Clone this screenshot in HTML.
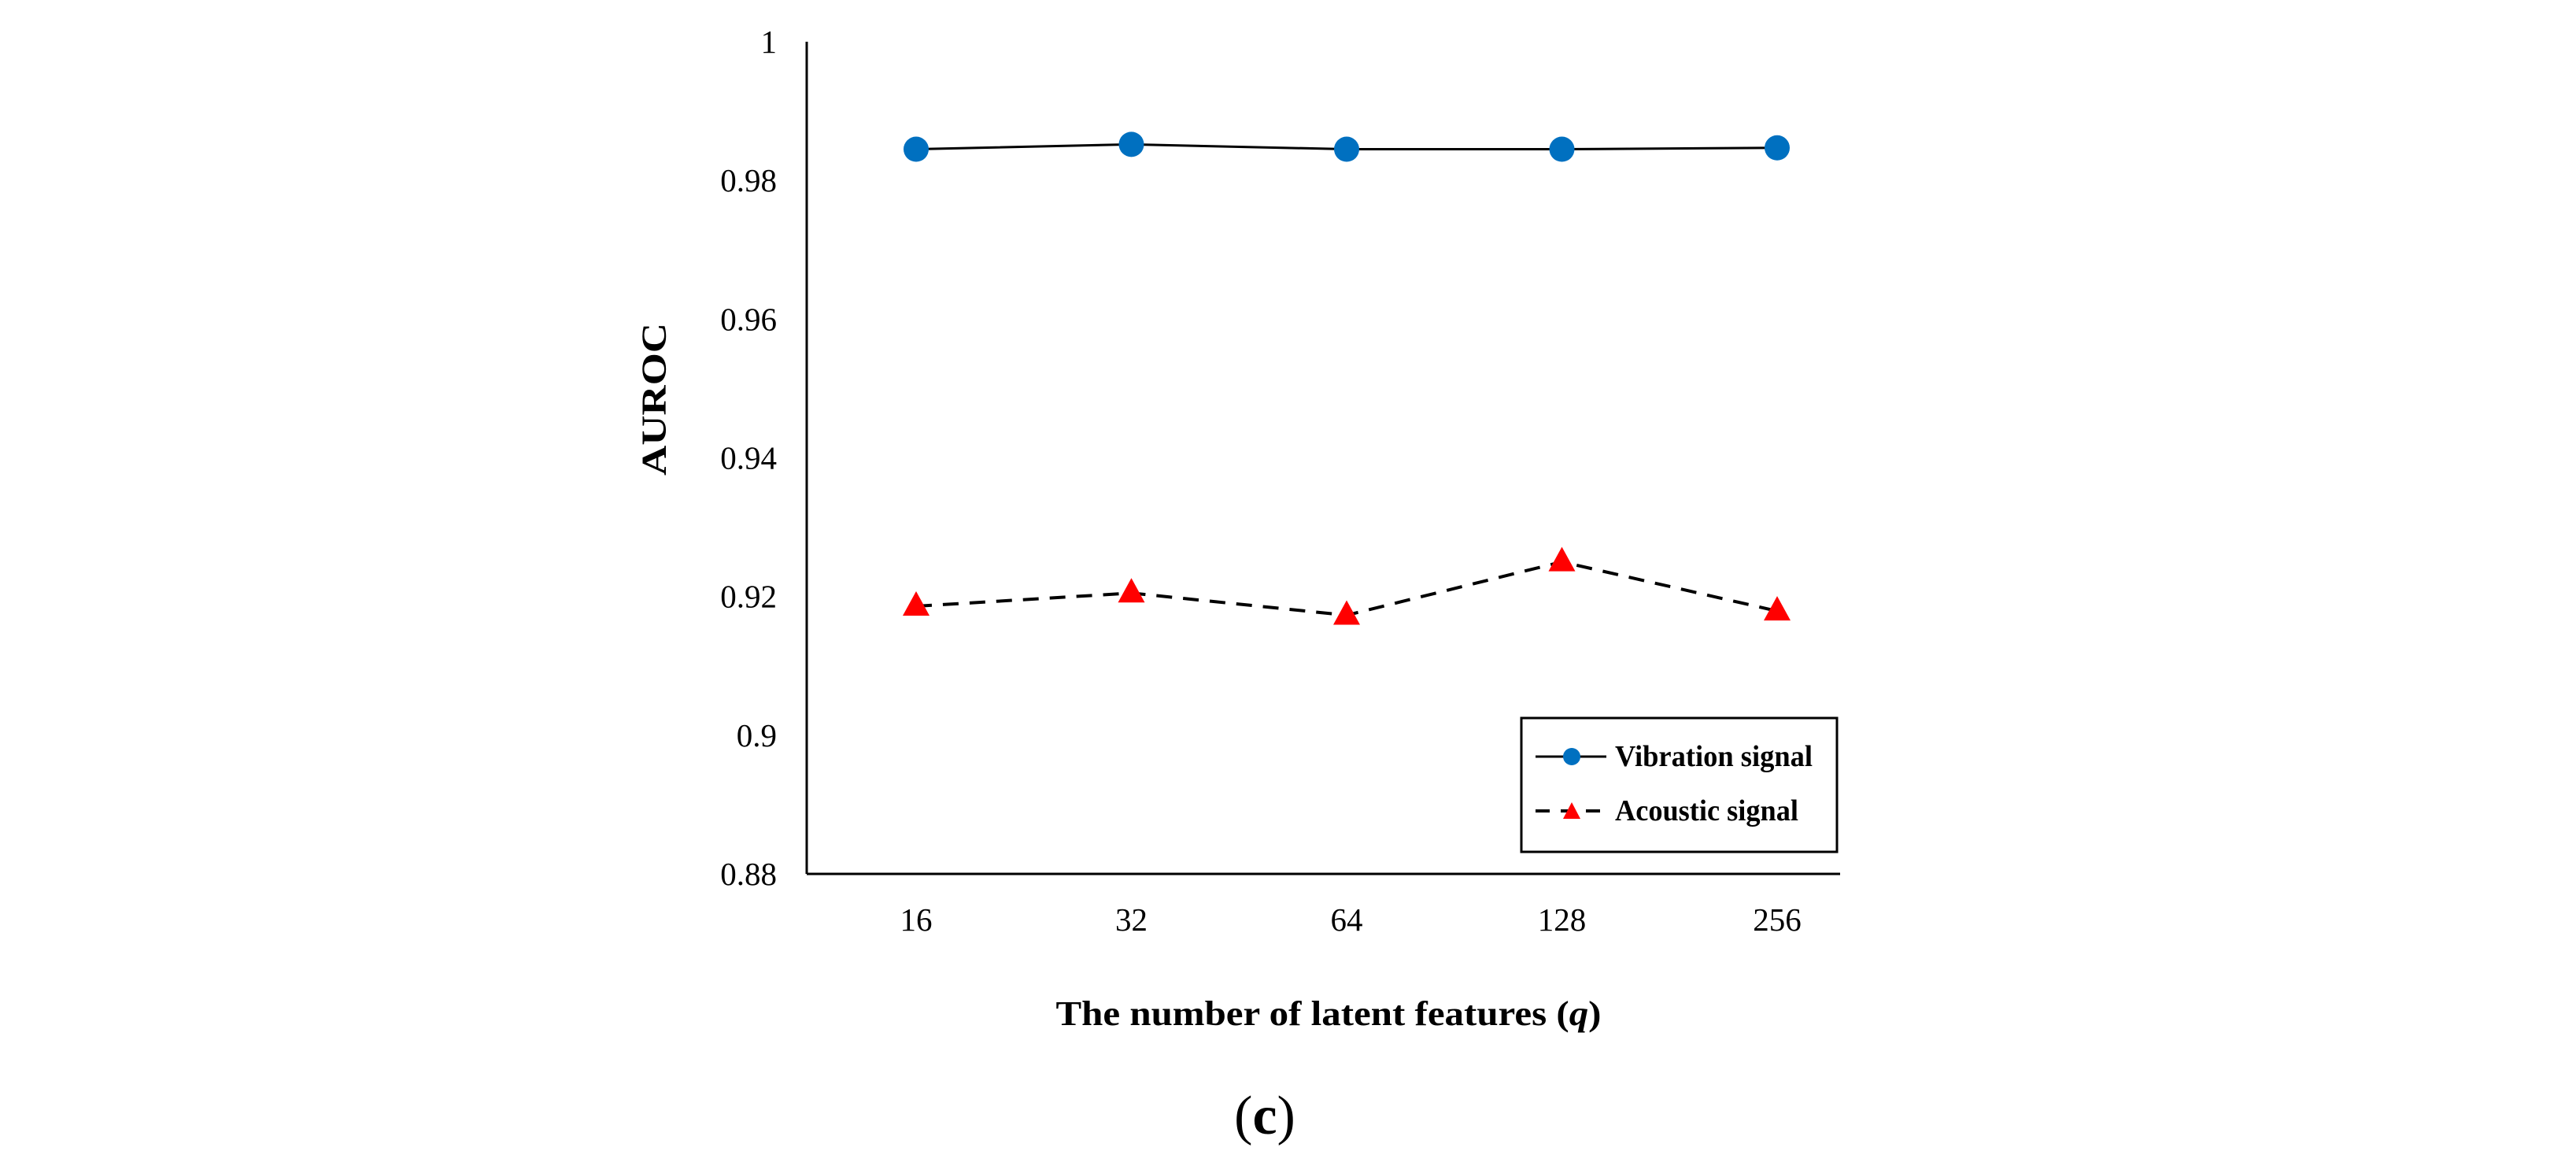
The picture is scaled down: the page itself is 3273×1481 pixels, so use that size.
<!DOCTYPE html>
<html><head><meta charset="utf-8"><style>
html,body{margin:0;padding:0;background:#fff;}
svg{display:block;font-family:"Liberation Serif",serif;}
</style></head><body>
<svg id="chart" width="3273" height="1481" viewBox="0 0 3273 1481" xmlns="http://www.w3.org/2000/svg">
<rect width="3273" height="1481" fill="#fff"/>
<g id="yticks"></g>
<g id="xticks"></g>
<line x1="1025" y1="53" x2="1025" y2="1110" stroke="#000" stroke-width="3"/>
<line x1="1025" y1="1110" x2="2338" y2="1110" stroke="#000" stroke-width="3"/>
<g id="series"></g>
<text x="831" y="507" font-size="44" font-weight="bold" text-anchor="middle" dominant-baseline="central" transform="rotate(-90 831 507)" textLength="194" lengthAdjust="spacingAndGlyphs">AUROC</text>
<text x="1688" y="1302" font-size="44" font-weight="bold" text-anchor="middle" textLength="693" lengthAdjust="spacingAndGlyphs">The number of latent features (<tspan font-style="italic">q</tspan>)</text>
<text x="1607" y="1440" font-size="70" text-anchor="middle">(<tspan font-weight="bold">c</tspan>)</text>
<g>
<rect x="1933" y="912" width="401" height="170" fill="#fff" stroke="#000" stroke-width="3"/>
<line x1="1951" y1="961" x2="2041" y2="961" stroke="#000" stroke-width="3"/>
<circle cx="1997" cy="961" r="11" fill="#0070C0"/>
<text x="2052" y="973" font-size="38" font-weight="bold" textLength="251" lengthAdjust="spacingAndGlyphs">Vibration signal</text>
<line x1="1951" y1="1030" x2="2041" y2="1030" stroke="#000" stroke-width="4" stroke-dasharray="18,14"/>
<polygon points="1997,1019 2008,1040 1986,1040" fill="#f00"/>
<text x="2052" y="1042" font-size="38" font-weight="bold" textLength="233" lengthAdjust="spacingAndGlyphs">Acoustic signal</text>
</g>
</svg>
<script>
const categories = ["16","32","64","128","256"];
const vibration = [0.9845, 0.9852, 0.9845, 0.9845, 0.9847];
const acoustic = [0.9186, 0.9205, 0.9173, 0.9250, 0.9179];
const yTicks = [0.88, 0.9, 0.92, 0.94, 0.96, 0.98, 1];
const yTickLabels = ["0.88","0.9","0.92","0.94","0.96","0.98","1"];

const NS = "http://www.w3.org/2000/svg";
function yScale(v){ return 1110 - (v - 0.88) / 0.12 * 1057; }
function xScale(i){ return 1164 + i * 273.5; }
function mk(tag, attrs, parent){
  const e = document.createElementNS(NS, tag);
  for (const k in attrs) e.setAttribute(k, attrs[k]);
  parent.appendChild(e); return e;
}
const yt = document.getElementById('yticks');
yTicks.forEach((v, i) => {
  const t = mk('text', {x: 987, y: yScale(v), 'font-size': 41, 'text-anchor': 'end', 'dominant-baseline': 'central'}, yt);
  
  
  t.textContent = yTickLabels[i];
});
const xt = document.getElementById('xticks');
categories.forEach((c, i) => {
  const t = mk('text', {x: xScale(i), y: 1182, 'font-size': 41, 'text-anchor': 'middle'}, xt);
  
  
  t.textContent = c;
});
const s = document.getElementById('series');
const vp = vibration.map((v, i) => xScale(i) + ',' + yScale(v)).join(' ');
const vl = mk('polyline', {points: vp, fill: 'none', stroke: '#000', 'stroke-width': 3}, s);


const ap = acoustic.map((v, i) => xScale(i) + ',' + yScale(v)).join(' ');
const al = mk('polyline', {points: ap, fill: 'none', stroke: '#000', 'stroke-width': 4, 'stroke-dasharray': '20,14'}, s);


vibration.forEach((v, i) => {
  const c = mk('circle', {cx: xScale(i), cy: yScale(v), r: 16, fill: '#0070C0'}, s);
  
  
});
acoustic.forEach((v, i) => {
  const x = xScale(i), y = yScale(v);
  const p = mk('polygon', {points: `${x},${y-19} ${x+17},${y+12} ${x-17},${y+12}`, fill: '#f00'}, s);
  
  
});
</script>
</body></html>
